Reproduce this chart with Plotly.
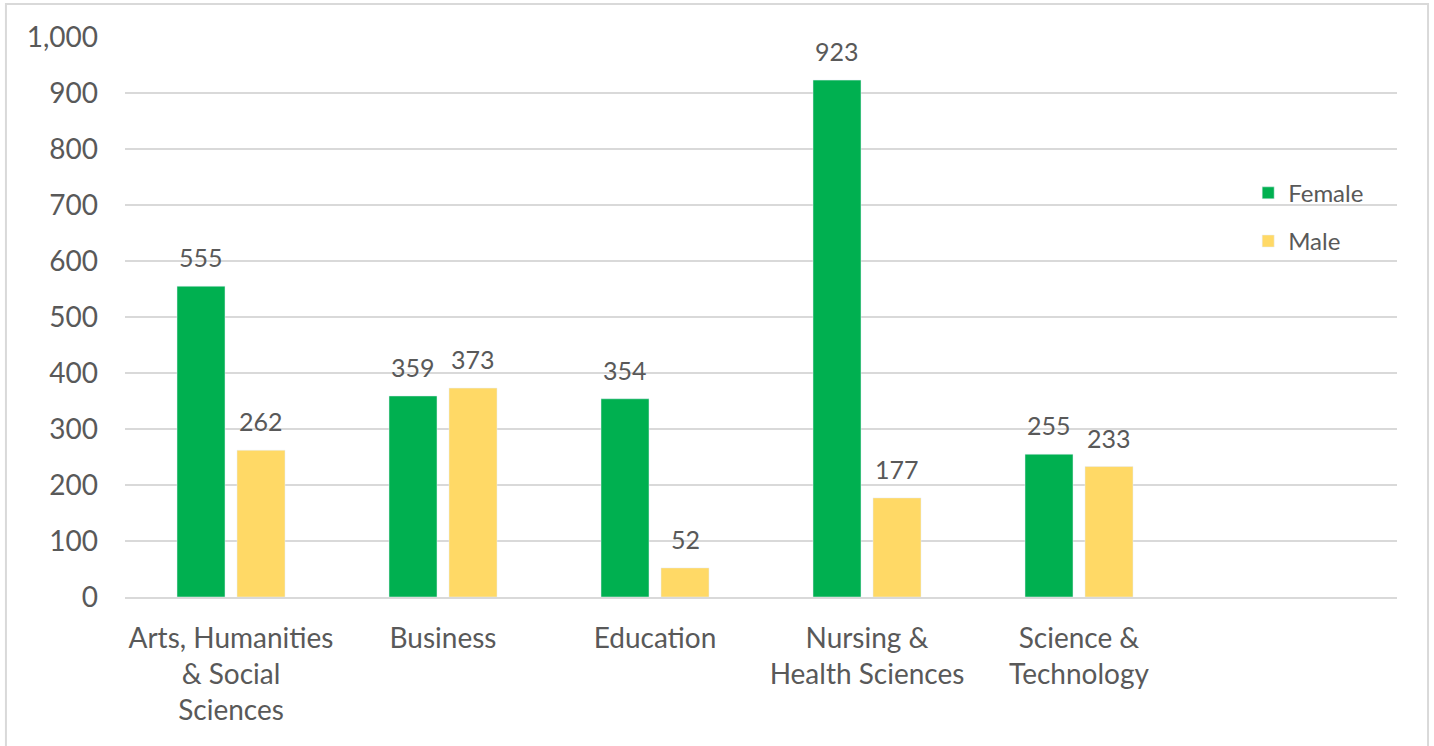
import plotly.graph_objects as go

categories = ["Arts, Humanities<br>& Social<br>Sciences", "Business", "Education",
              "Nursing &<br>Health Sciences", "Science &<br>Technology"]
female = [555, 359, 354, 923, 255]
male = [262, 373, 52, 177, 233]
y_ticks = [0, 100, 200, 300, 400, 500, 600, 700, 800, 900, 1000]

FONT = "Lato, Calibri, Carlito, sans-serif"
GREY = "#595959"
GREEN = "#00B050"
YELLOW = "#FFD966"

fig = go.Figure()
fig.add_trace(go.Bar(x=categories, y=female, name="Female", marker_color=GREEN,
                     legend="legend", showlegend=True))
fig.add_trace(go.Bar(x=categories, y=male, name="Male", marker_color=YELLOW,
                     legend="legend2", showlegend=True))

for c, v in zip(categories, female):
    fig.add_annotation(x=c, y=v, text=str(v), showarrow=False, xshift=-30, yshift=29,
                       yanchor="middle", font=dict(family=FONT, size=25, color=GREY))
for c, v in zip(categories, male):
    fig.add_annotation(x=c, y=v, text=str(v), showarrow=False, xshift=30, yshift=29,
                       yanchor="middle", font=dict(family=FONT, size=25, color=GREY))

# outer chart border
fig.add_shape(type="rect", xref="paper", yref="paper", x0=-0.0936, x1=1.0244,
              y0=-0.5, y1=1.0589, line=dict(color="#d9d9d9", width=2), fillcolor="rgba(0,0,0,0)",
              layer="below")

fig.update_layout(
    width=1434, height=746,
    margin=dict(l=125, r=37, t=37, b=149),
    paper_bgcolor="white", plot_bgcolor="white",
    barmode="group", bargap=0.434, bargroupgap=0.2,
    showlegend=True,
    font=dict(family=FONT, color=GREY),
    xaxis=dict(type="category", categoryarray=categories, range=[-0.5, 5.5],
               showgrid=False, showline=True, linecolor="#d9d9d9", linewidth=2,
               ticks="", tickfont=dict(size=28, color=GREY), ticklabelstandoff=15),
    yaxis=dict(range=[0, 1000], tickvals=y_ticks, tickformat=",d",
               showgrid=True, gridcolor="#d9d9d9", gridwidth=1.5,
               zeroline=False, showline=False, ticks="",
               tickfont=dict(size=28, color=GREY), ticklabelstandoff=26),
    legend=dict(x=0.883, y=0.721, xanchor="left", yanchor="middle", visible=True,
                font=dict(size=24, color=GREY), bgcolor="rgba(0,0,0,0)"),
    legend2=dict(x=0.883, y=0.635, xanchor="left", yanchor="middle", visible=True,
                 font=dict(size=24, color=GREY), bgcolor="rgba(0,0,0,0)"),
)

fig.write_html("out.html", config={"displayModeBar": False},
               post_script="document.body.style.margin='0';document.body.style.overflow='hidden';")
